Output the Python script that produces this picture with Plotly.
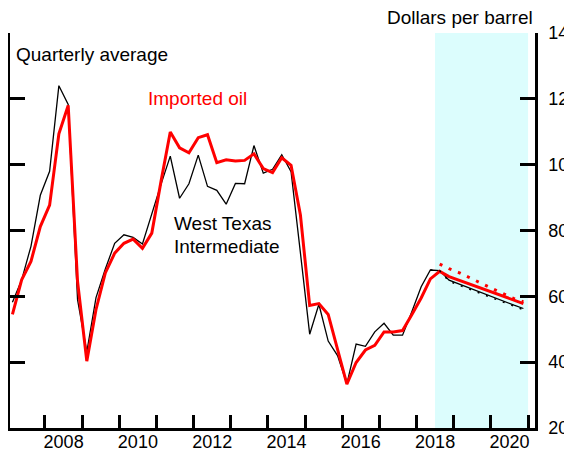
import pandas as pd
import plotly.graph_objects as go

# ---------------- data ----------------
quarters = pd.period_range("2007Q1", "2020Q4", freq="Q")

wti_actual = [58.2, 65.0, 75.2, 90.7, 98.0, 124.0, 118.3, 59.0,
              43.1, 59.6, 68.3, 76.1, 78.7, 77.9, 75.9, 85.2,
              94.1, 102.6, 89.8, 94.2, 102.9, 93.4, 92.2, 88.0,
              94.3, 94.2, 105.8, 97.4, 98.6, 103.0, 97.9, 73.2,
              48.5, 57.6, 46.4, 42.0, 33.4, 45.5, 44.8, 49.2,
              51.8, 48.2, 48.2, 55.4, 62.9, 68.0]
imported_actual = [54.5, 65.0, 70.6, 81.2, 87.7, 109.4, 118.0, 64.5,
                   40.3, 56.0, 67.1, 73.1, 76.1, 77.4, 74.6, 79.2,
                   95.0, 109.9, 105.1, 103.6, 108.2, 109.1, 100.6, 101.5,
                   101.1, 101.3, 103.3, 98.8, 97.6, 102.1, 99.8, 84.7,
                   57.2, 57.8, 54.5, 43.9, 33.3, 39.9, 43.7, 45.1,
                   49.2, 49.2, 49.6, 54.5, 59.5, 65.3]

# projections, 2018Q3 - 2020Q4
wti_proj = [67.8, 64.9, 63.8, 62.7, 61.6, 60.5, 59.4, 58.4, 57.3, 56.3]
wti_proj_alt = [67.8, 64.6, 63.5, 62.3, 61.2, 60.1, 59.0, 57.9, 56.9, 55.9]
imported_proj = [67.6, 66.0, 65.0, 64.0, 62.9, 61.9, 60.8, 59.8, 58.8, 57.8]
imported_proj_alt = [69.8, 68.4, 67.3, 65.9, 64.6, 63.3, 61.9, 60.6, 59.3, 58.3]

year_labels = ["2008", "2010", "2012", "2014", "2016", "2018", "2020"]
y_ticks = [20, 40, 60, 80, 100, 120, 140]
forecast_start, forecast_end = "2018-07-01", "2021-01-01"

# ---------------- positions (mid-quarter dates) ----------------
mid = [q.start_time + (q.end_time - q.start_time) / 2 for q in quarters]
n_act = len(wti_actual)
x_act = mid[:n_act]
x_proj = mid[n_act:]

FONT = "Liberation Sans, Arial, sans-serif"
RED = "#ff0000"

fig = go.Figure()
# WTI
fig.add_trace(go.Scatter(x=x_act + x_proj, y=wti_actual + wti_proj, mode="lines", yaxis="y",
                         line=dict(color="black", width=1.3), hoverinfo="skip"))
fig.add_trace(go.Scatter(x=[x_act[-1]] + x_proj, y=[wti_actual[-1]] + wti_proj_alt, mode="lines",
                         yaxis="y3",
                         line=dict(color="black", width=1.6, dash="2px,7px"), hoverinfo="skip"))
# Imported oil
fig.add_trace(go.Scatter(x=x_proj, y=imported_proj_alt, mode="lines", yaxis="y4",
                         line=dict(color=RED, width=3, dash="3px,7px"), hoverinfo="skip"))
fig.add_trace(go.Scatter(x=x_act + x_proj, y=imported_actual + imported_proj, mode="lines",
                         yaxis="y2",
                         line=dict(color=RED, width=3), hoverinfo="skip"))

fig.add_shape(type="rect", xref="x", yref="paper", x0=forecast_start, x1=forecast_end,
              y0=0, y1=1, fillcolor="#dcfdfd", line=dict(width=0), layer="below")

xrange = ["2007-01-22", "2021-03-10"]
label_pos = [f"{y}-07-02" for y in year_labels]

common_y = dict(range=[20, 140], showgrid=False, zeroline=False, automargin=False,
                tickmode="array", ticks="inside", tickwidth=2.5, tickcolor="black")

fig.update_layout(
    width=564, height=444,
    margin=dict(l=2, r=37, t=25, b=24, autoexpand=False),
    plot_bgcolor="white", paper_bgcolor="white",
    showlegend=False,
    font=dict(family=FONT, size=18, color="black"),
    xaxis=dict(type="date", range=xrange, showgrid=False, zeroline=False, automargin=False,
               showline=True, linecolor="black", linewidth=2.5,
               tickmode="array", tickvals=label_pos, ticktext=year_labels,
               ticks="", tickfont=dict(size=18), ticklabelstandoff=-4,
               minor=dict(ticks="inside", dtick="M12", tick0="2008-01-01",
                          ticklen=13, tickwidth=2.5, tickcolor="black", showgrid=False)),
    yaxis=dict(**common_y, side="left", showline=True, linecolor="black", linewidth=2.5,
               tickvals=y_ticks, ticklen=15, showticklabels=False),
    yaxis2=dict(**common_y, overlaying="y", side="right", anchor="x",
                showline=True, linecolor="black", linewidth=2.5,
                tickvals=y_ticks, ticklen=15, tickfont=dict(size=18),
                ticklabelstandoff=7),
    yaxis3=dict(**common_y, overlaying="y", side="left", anchor="x", showline=False,
                tickvals=[140], ticklen=24, showticklabels=False),
    yaxis4=dict(**common_y, overlaying="y", side="right", anchor="x", showline=False,
                tickvals=[140], ticklen=24, showticklabels=False),
)

ann = dict(showarrow=False, font=dict(family=FONT, size=19, color="black"),
           xanchor="left", yanchor="middle", align="left")
fig.add_annotation(text="Quarterly average", xref="x", yref="y",
                   x="2007-03-01", y=133.4, **ann)
fig.add_annotation(text="Imported oil", xref="x", yref="y",
                   x="2010-09-18", y=120.1, **{**ann, "font": dict(family=FONT, size=19, color=RED)})
fig.add_annotation(text="West Texas", xref="x", yref="y",
                   x="2011-06-06", y=82.0, **ann)
fig.add_annotation(text="Intermediate", xref="x", yref="y",
                   x="2011-06-06", y=75.2, **ann)
fig.add_annotation(text="Dollars per barrel", xref="x", yref="paper",
                   x="2017-03-01", y=1.038, **ann)

fig.write_html("out.html")
